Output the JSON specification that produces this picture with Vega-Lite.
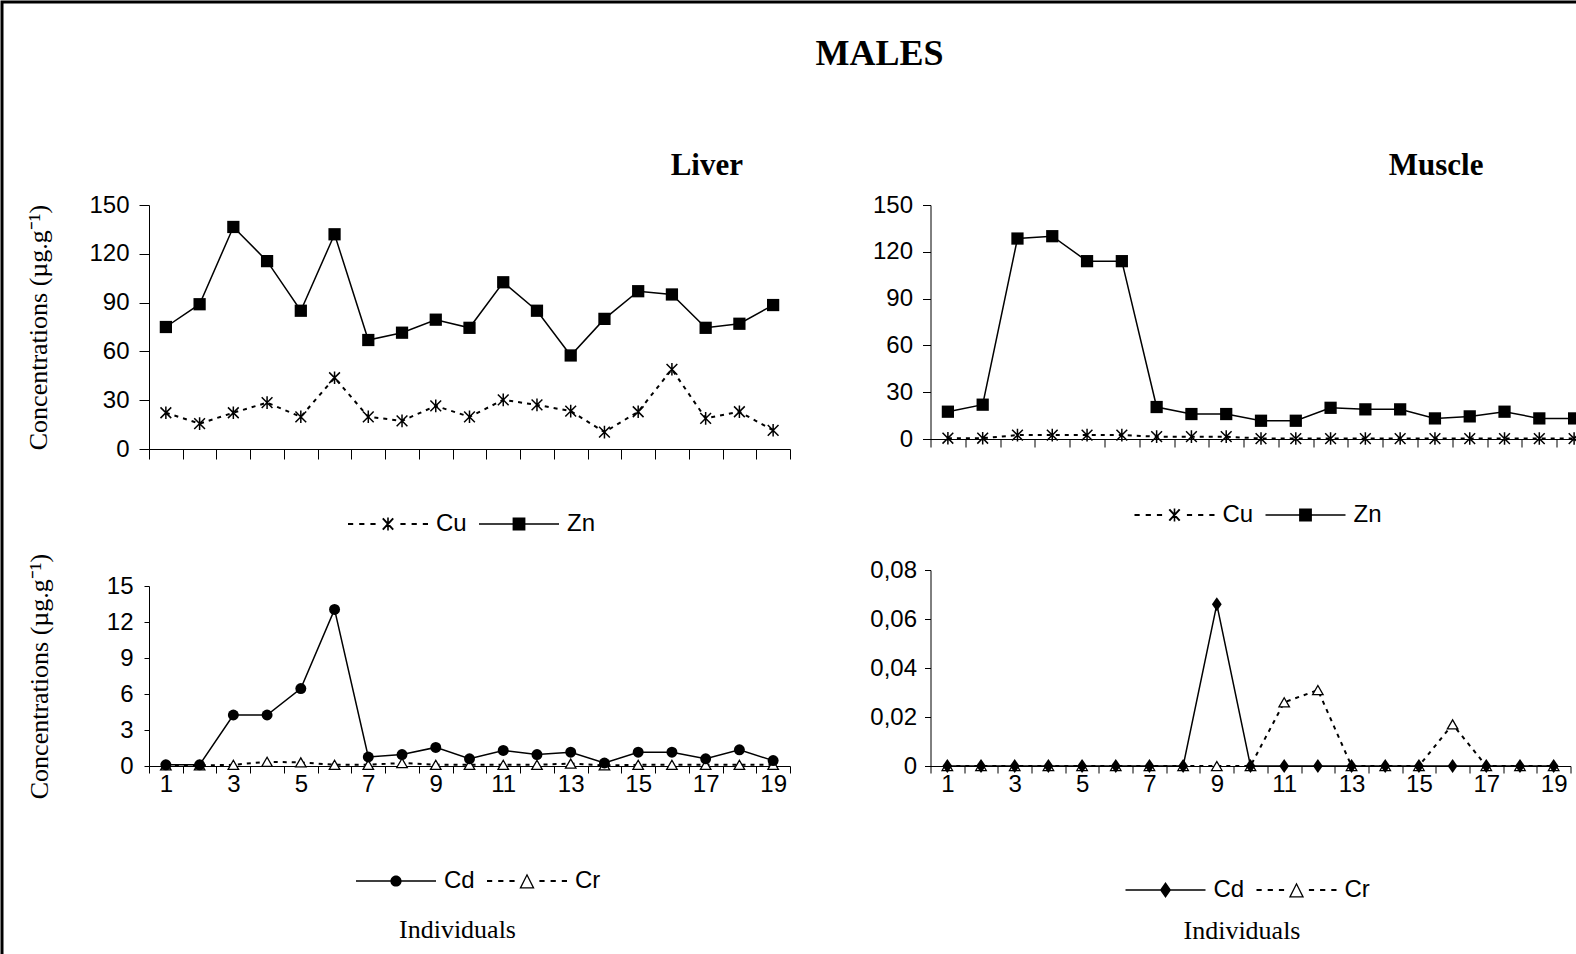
{
  "$schema": "https://vega.github.io/schema/vega-lite/v6.json",
  "padding": 0,
  "background": "white",
  "datasets": {
    "liverCuZn": [
      {"ind": 1, "metal": "Zn", "value": 75}, {"ind": 2, "metal": "Zn", "value": 89}, {"ind": 3, "metal": "Zn", "value": 136.5}, {"ind": 4, "metal": "Zn", "value": 115.5}, {"ind": 5, "metal": "Zn", "value": 85}, {"ind": 6, "metal": "Zn", "value": 132}, {"ind": 7, "metal": "Zn", "value": 67}, {"ind": 8, "metal": "Zn", "value": 71.5}, {"ind": 9, "metal": "Zn", "value": 79.5}, {"ind": 10, "metal": "Zn", "value": 74.5}, {"ind": 11, "metal": "Zn", "value": 102.5}, {"ind": 12, "metal": "Zn", "value": 85}, {"ind": 13, "metal": "Zn", "value": 57.5}, {"ind": 14, "metal": "Zn", "value": 80}, {"ind": 15, "metal": "Zn", "value": 97}, {"ind": 16, "metal": "Zn", "value": 95}, {"ind": 17, "metal": "Zn", "value": 74.5}, {"ind": 18, "metal": "Zn", "value": 77}, {"ind": 19, "metal": "Zn", "value": 88.5},
      {"ind": 1, "metal": "Cu", "value": 22.3}, {"ind": 2, "metal": "Cu", "value": 15.6}, {"ind": 3, "metal": "Cu", "value": 22.3}, {"ind": 4, "metal": "Cu", "value": 28.5}, {"ind": 5, "metal": "Cu", "value": 19.8}, {"ind": 6, "metal": "Cu", "value": 43.8}, {"ind": 7, "metal": "Cu", "value": 19.8}, {"ind": 8, "metal": "Cu", "value": 17.3}, {"ind": 9, "metal": "Cu", "value": 26.5}, {"ind": 10, "metal": "Cu", "value": 19.8}, {"ind": 11, "metal": "Cu", "value": 30.2}, {"ind": 12, "metal": "Cu", "value": 27.1}, {"ind": 13, "metal": "Cu", "value": 23.3}, {"ind": 14, "metal": "Cu", "value": 10.4}, {"ind": 15, "metal": "Cu", "value": 22.9}, {"ind": 16, "metal": "Cu", "value": 49}, {"ind": 17, "metal": "Cu", "value": 18.8}, {"ind": 18, "metal": "Cu", "value": 22.9}, {"ind": 19, "metal": "Cu", "value": 11.5}
    ],
    "muscleCuZn": [
      {"ind": 1, "metal": "Zn", "value": 17.5}, {"ind": 2, "metal": "Zn", "value": 22}, {"ind": 3, "metal": "Zn", "value": 128.5}, {"ind": 4, "metal": "Zn", "value": 130}, {"ind": 5, "metal": "Zn", "value": 114}, {"ind": 6, "metal": "Zn", "value": 114}, {"ind": 7, "metal": "Zn", "value": 20.5}, {"ind": 8, "metal": "Zn", "value": 16}, {"ind": 9, "metal": "Zn", "value": 16}, {"ind": 10, "metal": "Zn", "value": 11.7}, {"ind": 11, "metal": "Zn", "value": 11.7}, {"ind": 12, "metal": "Zn", "value": 20}, {"ind": 13, "metal": "Zn", "value": 19}, {"ind": 14, "metal": "Zn", "value": 19}, {"ind": 15, "metal": "Zn", "value": 13.2}, {"ind": 16, "metal": "Zn", "value": 14.5}, {"ind": 17, "metal": "Zn", "value": 17.5}, {"ind": 18, "metal": "Zn", "value": 13.2}, {"ind": 19, "metal": "Zn", "value": 13.2},
      {"ind": 1, "metal": "Cu", "value": 0.5}, {"ind": 2, "metal": "Cu", "value": 0.5}, {"ind": 3, "metal": "Cu", "value": 2.5}, {"ind": 4, "metal": "Cu", "value": 2.5}, {"ind": 5, "metal": "Cu", "value": 2.5}, {"ind": 6, "metal": "Cu", "value": 2.5}, {"ind": 7, "metal": "Cu", "value": 1.5}, {"ind": 8, "metal": "Cu", "value": 1.5}, {"ind": 9, "metal": "Cu", "value": 1.5}, {"ind": 10, "metal": "Cu", "value": 0.3}, {"ind": 11, "metal": "Cu", "value": 0.3}, {"ind": 12, "metal": "Cu", "value": 0.3}, {"ind": 13, "metal": "Cu", "value": 0.3}, {"ind": 14, "metal": "Cu", "value": 0.3}, {"ind": 15, "metal": "Cu", "value": 0.3}, {"ind": 16, "metal": "Cu", "value": 0.3}, {"ind": 17, "metal": "Cu", "value": 0.3}, {"ind": 18, "metal": "Cu", "value": 0.3}, {"ind": 19, "metal": "Cu", "value": 0.3}
    ],
    "liverCdCr": [
      {"ind": 1, "metal": "Cd", "value": 0.1}, {"ind": 2, "metal": "Cd", "value": 0.1}, {"ind": 3, "metal": "Cd", "value": 4.25}, {"ind": 4, "metal": "Cd", "value": 4.25}, {"ind": 5, "metal": "Cd", "value": 6.45}, {"ind": 6, "metal": "Cd", "value": 13.05}, {"ind": 7, "metal": "Cd", "value": 0.75}, {"ind": 8, "metal": "Cd", "value": 0.95}, {"ind": 9, "metal": "Cd", "value": 1.55}, {"ind": 10, "metal": "Cd", "value": 0.6}, {"ind": 11, "metal": "Cd", "value": 1.3}, {"ind": 12, "metal": "Cd", "value": 0.95}, {"ind": 13, "metal": "Cd", "value": 1.15}, {"ind": 14, "metal": "Cd", "value": 0.25}, {"ind": 15, "metal": "Cd", "value": 1.15}, {"ind": 16, "metal": "Cd", "value": 1.15}, {"ind": 17, "metal": "Cd", "value": 0.6}, {"ind": 18, "metal": "Cd", "value": 1.35}, {"ind": 19, "metal": "Cd", "value": 0.45},
      {"ind": 1, "metal": "Cr", "value": 0.05}, {"ind": 2, "metal": "Cr", "value": 0.05}, {"ind": 3, "metal": "Cr", "value": 0.1}, {"ind": 4, "metal": "Cr", "value": 0.35}, {"ind": 5, "metal": "Cr", "value": 0.3}, {"ind": 6, "metal": "Cr", "value": 0.1}, {"ind": 7, "metal": "Cr", "value": 0.1}, {"ind": 8, "metal": "Cr", "value": 0.25}, {"ind": 9, "metal": "Cr", "value": 0.1}, {"ind": 10, "metal": "Cr", "value": 0.1}, {"ind": 11, "metal": "Cr", "value": 0.1}, {"ind": 12, "metal": "Cr", "value": 0.1}, {"ind": 13, "metal": "Cr", "value": 0.2}, {"ind": 14, "metal": "Cr", "value": 0.05}, {"ind": 15, "metal": "Cr", "value": 0.1}, {"ind": 16, "metal": "Cr", "value": 0.1}, {"ind": 17, "metal": "Cr", "value": 0.1}, {"ind": 18, "metal": "Cr", "value": 0.1}, {"ind": 19, "metal": "Cr", "value": 0.1}
    ],
    "muscleCdCr": [
      {"ind": 1, "metal": "Cd", "value": 0}, {"ind": 2, "metal": "Cd", "value": 0}, {"ind": 3, "metal": "Cd", "value": 0}, {"ind": 4, "metal": "Cd", "value": 0}, {"ind": 5, "metal": "Cd", "value": 0}, {"ind": 6, "metal": "Cd", "value": 0}, {"ind": 7, "metal": "Cd", "value": 0}, {"ind": 8, "metal": "Cd", "value": 0}, {"ind": 9, "metal": "Cd", "value": 0.066}, {"ind": 10, "metal": "Cd", "value": 0}, {"ind": 11, "metal": "Cd", "value": 0}, {"ind": 12, "metal": "Cd", "value": 0}, {"ind": 13, "metal": "Cd", "value": 0}, {"ind": 14, "metal": "Cd", "value": 0}, {"ind": 15, "metal": "Cd", "value": 0}, {"ind": 16, "metal": "Cd", "value": 0}, {"ind": 17, "metal": "Cd", "value": 0}, {"ind": 18, "metal": "Cd", "value": 0}, {"ind": 19, "metal": "Cd", "value": 0},
      {"ind": 1, "metal": "Cr", "value": 0}, {"ind": 2, "metal": "Cr", "value": 0}, {"ind": 3, "metal": "Cr", "value": 0}, {"ind": 4, "metal": "Cr", "value": 0}, {"ind": 5, "metal": "Cr", "value": 0}, {"ind": 6, "metal": "Cr", "value": 0}, {"ind": 7, "metal": "Cr", "value": 0}, {"ind": 8, "metal": "Cr", "value": 0}, {"ind": 9, "metal": "Cr", "value": 0}, {"ind": 10, "metal": "Cr", "value": 0}, {"ind": 11, "metal": "Cr", "value": 0.026}, {"ind": 12, "metal": "Cr", "value": 0.031}, {"ind": 13, "metal": "Cr", "value": 0}, {"ind": 14, "metal": "Cr", "value": 0}, {"ind": 15, "metal": "Cr", "value": 0}, {"ind": 16, "metal": "Cr", "value": 0.017}, {"ind": 17, "metal": "Cr", "value": 0}, {"ind": 18, "metal": "Cr", "value": 0}, {"ind": 19, "metal": "Cr", "value": 0}
    ]
  },
  "spacing": -834,
  "align": "none",
  "resolve": {"scale": {"shape": "independent"}},
  "vconcat": [
    {
      "width": 1600,
      "height": 980,
      "data": {"values": [{}]},
      "mark": {"type": "text", "text": ""},
      "view": {"stroke": "black", "strokeWidth": 3},
      "title": {"text": "MALES", "anchor": "middle", "frame": "group", "dx": 77.5, "dy": 39, "offset": -60, "baseline": "alphabetic", "fontSize": 36}
    },
    {
      "spacing": 22,
      "resolve": {"scale": {"shape": "independent"}},
      "hconcat": [
        {"width": 1, "height": 1, "data": {"values": [{}]}, "mark": {"type": "text", "text": ""}},
        {
          "spacing": 78.5,
          "resolve": {"scale": {"shape": "independent"}},
          "hconcat": [
            {
              "spacing": 17,
              "align": "none",
              "resolve": {"scale": {"shape": "independent"}},
              "vconcat": [
                {
                  "width": 641,
                  "height": 244,
                  "data": {"name": "liverCuZn"},
                  "title": {"text": "Liver", "anchor": "end", "frame": "group", "dx": -47, "offset": -13, "baseline": "alphabetic", "fontSize": 31},
                  "encoding": {
                    "x": {"field": "ind", "type": "ordinal", "bandPosition": 0.5, "scale": {"type": "band", "paddingInner": 0, "paddingOuter": 0}, "axis": {"labels": false, "tickBand": "extent", "tickSize": 10, "title": null}},
                    "y": {"field": "value", "type": "quantitative", "scale": {"domain": [0, 150], "nice": false}, "axis": {"values": [0, 30, 60, 90, 120, 150], "tickSize": 10, "labelPadding": 10, "title": "Concentrations (µg.g⁻¹)", "titlePadding": 37}}
                  },
                  "layer": [
                    {"transform": [{"filter": "datum.metal === 'Cu'"}], "mark": {"type": "line", "color": "black", "strokeWidth": 2, "strokeDash": [4, 5]}},
                    {"transform": [{"filter": "datum.metal === 'Zn'"}], "mark": {"type": "line", "color": "black", "strokeWidth": 1.5}},
                    {"transform": [{"filter": "datum.metal === 'Cu'"}], "mark": {"type": "point", "shape": "M0,-1V1M-0.85,-0.85L0.85,0.85M0.85,-0.85L-0.85,0.85", "size": 160, "color": "black", "strokeWidth": 1.5, "opacity": 1}},
                    {"transform": [{"filter": "datum.metal === 'Zn'"}], "mark": {"type": "point", "shape": "square", "size": 150, "filled": true, "color": "black", "opacity": 1}},
                    {
                      "mark": {"type": "point", "filled": true, "color": "black", "opacity": 0},
                      "encoding": {
                        "shape": {"field": "metal", "type": "nominal", "scale": {"domain": ["Cu", "Zn"], "range": ["M-1,-0.025H-0.87V0.025H-1ZM-0.72,-0.025H-0.59V0.025H-0.72ZM-0.44,-0.025H-0.31V0.025H-0.44ZM0.31,-0.025H0.44V0.025H0.31ZM0.59,-0.025H0.72V0.025H0.59ZM0.87,-0.025H1V0.025H0.87ZM-0.02,-0.16H0.02V0.16H-0.02ZM-0.112,-0.157L0.148,0.123L0.112,0.157L-0.148,-0.123ZM0.148,-0.123L-0.112,0.157L-0.148,0.123L0.112,-0.157Z", "M-1,-0.02H1V0.02H-1ZM-0.16,-0.16H0.16V0.16H-0.16Z"]}, "legend": {"orient": "none", "legendX": 199, "legendY": 279, "direction": "horizontal", "title": null}}
                      }
                    }
                  ]
                },
                {
                  "width": 641,
                  "height": 180,
                  "data": {"name": "liverCdCr"},
                  "encoding": {
                    "x": {"field": "ind", "type": "ordinal", "bandPosition": 0.5, "scale": {"type": "band", "paddingInner": 0, "paddingOuter": 0}, "axis": {"labelExpr": "datum.value % 2 === 1 ? datum.label : ''", "labelAngle": 0, "tickBand": "extent", "tickSize": 7, "labelPadding": -1, "title": "Individuals", "titleX": 308, "titlePadding": 120}},
                    "y": {"field": "value", "type": "quantitative", "scale": {"domain": [0, 15], "nice": false}, "axis": {"values": [0, 3, 6, 9, 12, 15], "tickSize": 5, "labelPadding": 11, "title": "Concentrations (µg.g⁻¹)", "titlePadding": 54}}
                  },
                  "layer": [
                    {"transform": [{"filter": "datum.metal === 'Cr'"}], "mark": {"type": "line", "color": "black", "strokeWidth": 2, "strokeDash": [4, 5]}},
                    {"transform": [{"filter": "datum.metal === 'Cd'"}], "mark": {"type": "line", "color": "black", "strokeWidth": 1.5}},
                    {"transform": [{"filter": "datum.metal === 'Cr'"}], "mark": {"type": "point", "shape": "triangle-up", "size": 110, "filled": true, "fill": "white", "stroke": "black", "strokeWidth": 1.3, "opacity": 1}},
                    {"transform": [{"filter": "datum.metal === 'Cd'"}], "mark": {"type": "point", "shape": "circle", "size": 120, "filled": true, "color": "black", "opacity": 1}},
                    {
                      "mark": {"type": "point", "filled": true, "color": "black", "opacity": 0},
                      "encoding": {
                        "shape": {"field": "metal", "type": "nominal", "scale": {"domain": ["Cd", "Cr"], "range": ["M-1,-0.02H1V0.02H-1ZM0.14,0A0.14,0.14,0,1,1,-0.14,0A0.14,0.14,0,1,1,0.14,0Z", "M-1,-0.025H-0.87V0.025H-1ZM-0.72,-0.025H-0.59V0.025H-0.72ZM-0.44,-0.025H-0.31V0.025H-0.44ZM0.31,-0.025H0.44V0.025H0.31ZM0.59,-0.025H0.72V0.025H0.59ZM0.87,-0.025H1V0.025H0.87ZM0,-0.19L0.19,0.19L-0.19,0.19ZM0,-0.116L-0.1365,0.157L0.1365,0.157Z"]}, "legend": {"orient": "none", "legendX": 207, "legendY": 255, "direction": "horizontal", "title": null}}
                      }
                    }
                  ]
                }
              ]
            },
            {
              "spacing": 31,
              "align": "none",
              "resolve": {"scale": {"shape": "independent"}},
              "vconcat": [
                {
                  "width": 661,
                  "height": 234,
                  "data": {"name": "muscleCuZn"},
                  "title": {"text": "Muscle", "anchor": "end", "frame": "group", "dx": -108, "offset": -13, "baseline": "alphabetic", "fontSize": 31},
                  "encoding": {
                    "x": {"field": "ind", "type": "ordinal", "bandPosition": 0.5, "scale": {"type": "band", "paddingInner": 0, "paddingOuter": 0}, "axis": {"labels": false, "tickBand": "extent", "tickSize": 8, "title": null}},
                    "y": {"field": "value", "type": "quantitative", "scale": {"domain": [0, 150], "nice": false}, "axis": {"values": [0, 30, 60, 90, 120, 150], "tickSize": 8, "labelPadding": 10, "title": null}}
                  },
                  "layer": [
                    {"transform": [{"filter": "datum.metal === 'Cu'"}], "mark": {"type": "line", "color": "black", "strokeWidth": 2, "strokeDash": [4, 5]}},
                    {"transform": [{"filter": "datum.metal === 'Zn'"}], "mark": {"type": "line", "color": "black", "strokeWidth": 1.5}},
                    {"transform": [{"filter": "datum.metal === 'Cu'"}], "mark": {"type": "point", "shape": "M0,-1V1M-0.85,-0.85L0.85,0.85M0.85,-0.85L-0.85,0.85", "size": 160, "color": "black", "strokeWidth": 1.5, "opacity": 1}},
                    {"transform": [{"filter": "datum.metal === 'Zn'"}], "mark": {"type": "point", "shape": "square", "size": 150, "filled": true, "color": "black", "opacity": 1}},
                    {
                      "mark": {"type": "point", "filled": true, "color": "black", "opacity": 0},
                      "encoding": {
                        "shape": {"field": "metal", "type": "nominal", "scale": {"domain": ["Cu", "Zn"], "range": ["M-1,-0.025H-0.87V0.025H-1ZM-0.72,-0.025H-0.59V0.025H-0.72ZM-0.44,-0.025H-0.31V0.025H-0.44ZM0.31,-0.025H0.44V0.025H0.31ZM0.59,-0.025H0.72V0.025H0.59ZM0.87,-0.025H1V0.025H0.87ZM-0.02,-0.16H0.02V0.16H-0.02ZM-0.112,-0.157L0.148,0.123L0.112,0.157L-0.148,-0.123ZM0.148,-0.123L-0.112,0.157L-0.148,0.123L0.112,-0.157Z", "M-1,-0.02H1V0.02H-1ZM-0.16,-0.16H0.16V0.16H-0.16Z"]}, "legend": {"orient": "none", "legendX": 204, "legendY": 270, "direction": "horizontal", "title": null}}
                      }
                    }
                  ]
                },
                {
                  "width": 640,
                  "height": 196,
                  "data": {"name": "muscleCdCr"},
                  "encoding": {
                    "x": {"field": "ind", "type": "ordinal", "bandPosition": 0.5, "scale": {"type": "band", "paddingInner": 0, "paddingOuter": 0}, "axis": {"labelExpr": "datum.value % 2 === 1 ? datum.label : ''", "labelAngle": 0, "tickBand": "extent", "tickSize": 7, "labelPadding": -1, "title": "Individuals", "titleX": 311, "titlePadding": 121}},
                    "y": {"field": "value", "type": "quantitative", "scale": {"domain": [0, 0.08], "nice": false}, "axis": {"values": [0, 0.02, 0.04, 0.06, 0.08], "labelExpr": "datum.value == 0 ? '0' : replace(format(datum.value, '.2f'), '.', ',')", "tickSize": 6, "labelPadding": 8, "title": null}}
                  },
                  "layer": [
                    {"transform": [{"filter": "datum.metal === 'Cr'"}], "mark": {"type": "line", "color": "black", "strokeWidth": 2, "strokeDash": [4, 5]}},
                    {"transform": [{"filter": "datum.metal === 'Cd'"}], "mark": {"type": "line", "color": "black", "strokeWidth": 1.5}},
                    {"transform": [{"filter": "datum.metal === 'Cr'"}], "mark": {"type": "point", "shape": "triangle-up", "size": 110, "filled": true, "fill": "white", "stroke": "black", "strokeWidth": 1.3, "opacity": 1}},
                    {"transform": [{"filter": "datum.metal === 'Cd'"}], "mark": {"type": "point", "shape": "M0,-1L0.7,0L0,1L-0.7,0Z", "size": 196, "filled": true, "color": "black", "opacity": 1}},
                    {
                      "mark": {"type": "point", "filled": true, "color": "black", "opacity": 0},
                      "encoding": {
                        "shape": {"field": "metal", "type": "nominal", "scale": {"domain": ["Cd", "Cr"], "range": ["M-1,-0.02H1V0.02H-1ZM0,-0.2L0.14,0L0,0.2L-0.14,0Z", "M-1,-0.025H-0.87V0.025H-1ZM-0.72,-0.025H-0.59V0.025H-0.72ZM-0.44,-0.025H-0.31V0.025H-0.44ZM0.31,-0.025H0.44V0.025H0.31ZM0.59,-0.025H0.72V0.025H0.59ZM0.87,-0.025H1V0.025H0.87ZM0,-0.19L0.19,0.19L-0.19,0.19ZM0,-0.116L-0.1365,0.157L0.1365,0.157Z"]}, "legend": {"orient": "none", "legendX": 195, "legendY": 280, "direction": "horizontal", "title": null}}
                      }
                    }
                  ]
                }
              ]
            }
          ]
        }
      ]
    }
  ],
  "config": {
    "view": {"stroke": null},
    "font": "Liberation Sans",
    "axis": {"domainColor": "black", "tickColor": "black", "labelColor": "black", "titleColor": "black", "grid": false, "labelFont": "Liberation Sans", "labelFontSize": 24, "titleFont": "Liberation Serif", "titleFontSize": 26, "titleFontWeight": "normal", "domainWidth": 1, "tickWidth": 1},
    "legend": {"labelFont": "Liberation Sans", "labelFontSize": 24, "labelColor": "black", "symbolSize": 6400, "symbolStrokeWidth": 0, "symbolFillColor": "black", "labelOffset": 8, "columnPadding": 12, "padding": 0, "symbolOpacity": 1},
    "title": {"font": "Liberation Serif", "fontWeight": "bold", "color": "black"}
  }
}
